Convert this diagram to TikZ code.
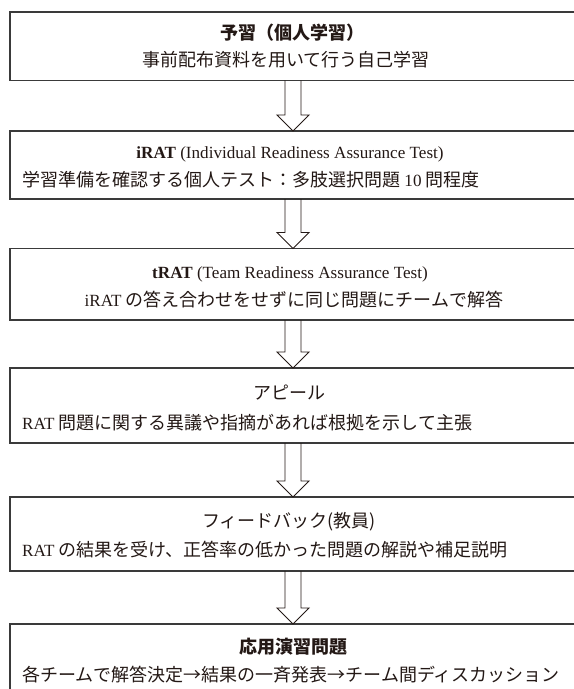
\documentclass[tikz,border=0pt]{standalone}
\usepackage{fontspec}
\setmainfont{Liberation Serif}[Scale=0.95]
\newfontfamily\jpf{Noto Sans CJK JP}
\usetikzlibrary{calc}
\definecolor{boxc}{HTML}{3A3A3A}
\definecolor{txtc}{HTML}{231815}
\tikzset{
  box/.style={rectangle, draw=boxc, line width=1.4bp, minimum width=566bp, inner sep=0pt, outer sep=0pt},
  txt/.style={inner sep=0pt, text=txtc, font=\fontsize{18bp}{21bp}\selectfont},
  arr/.style={draw=txtc, line width=0.9bp, line join=miter}
}
\begin{document}
\begin{tikzpicture}[x=1bp,y=-1bp]
\useasboundingbox (0,0) rectangle (574,689);
\clip (0,0) rectangle (574,689);
% boxes
\node[box, minimum height=68.5bp] (b1) at (293,46.25) {};
\node[box, minimum height=68bp]   (b2) at (293,165) {};
\node[box, minimum height=71.5bp] (b3) at (293,284.25) {};
\node[box, minimum height=75bp]   (b4) at (293,405.5) {};
\node[box, minimum height=74bp]   (b5) at (293,534) {};
\node[box, minimum height=76bp]   (b6) at (293,662) {};
% arrows
\foreach \a/\b in {b1/b2,b2/b3,b3/b4,b4/b5,b5/b6}{
  \draw[arr] ($(\a.south)+(-8,0)$) -- ($(\b.north)+(-8,-16)$) -- ($(\b.north)+(-16,-16)$)
     -- (\b.north) -- ($(\b.north)+(16,-16)$) -- ($(\b.north)+(8,-16)$) -- ($(\a.south)+(8,0)$);
}
% texts
\node[txt, anchor=base] (t1) at (292,39.5) {{\jpf\bfseries 予習（個人学習）}};
\node[txt, anchor=base] (s1) at (286,66.5) {{\jpf 事前配布資料を用いて行う自己学習}};
\node[txt, anchor=base] (t2) at (290,158.5) {\textbf{iRAT} (Individual Readiness Assurance Test)};
\node[txt, anchor=base west] (s2) at (22,186.5) {{\jpf 学習準備を確認する個人テスト：多肢選択問題} 10 {\jpf 問程度}};
\node[txt, anchor=base] (t3) at (290,278.5) {\textbf{tRAT} (Team Readiness Assurance Test)};
\node[txt, anchor=base] (s3) at (294,306.5) {iRAT {\jpf の答え合わせをせずに同じ問題にチームで解答}};
\node[txt, anchor=base] (t4) at (289,399.5) {{\jpf アピール}};
\node[txt, anchor=base west] (s4) at (22,429.5) {RAT {\jpf 問題に関する異議や指摘があれば根拠を示して主張}};
\node[txt, anchor=base] (t5) at (289,527.5) {{\jpf フィードバック(教員)}};
\node[txt, anchor=base west] (s5) at (22,556.5) {RAT {\jpf の結果を受け、正答率の低かった問題の解説や補足説明}};
\node[txt, anchor=base] (t6) at (293,653.5) {{\jpf\bfseries 応用演習問題}};
\node[txt, anchor=base west] (s6) at (22,681.5) {{\jpf 各チームで解答決定→結果の一斉発表→チーム間ディスカッション}};
\end{tikzpicture}
\end{document}
